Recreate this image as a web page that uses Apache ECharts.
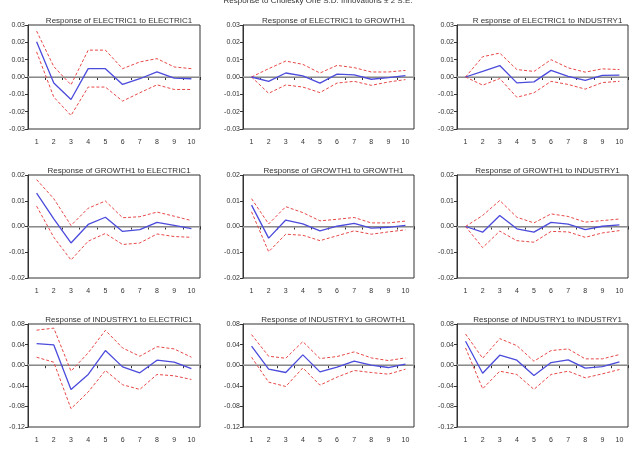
<!DOCTYPE html>
<html><head><meta charset="utf-8">
<script src="https://cdn.jsdelivr.net/npm/echarts@6/dist/echarts.min.js"></script>
<style>html,body{margin:0;padding:0;background:#fff}#c{width:636px;height:454px}</style>
</head><body><div id="c"></div>
<script>
const periods = ['1','2','3','4','5','6','7','8','9','10'];
const mainTitle = 'Response to Cholesky One S.D. Innovations \u00b1 2 S.E.';
const panelTitles = [
  'Response of ELECTRIC1 to ELECTRIC1','Response of ELECTRIC1 to GROWTH1','R esponse of ELECTRIC1 to INDUSTRY1',
  'Response of GROWTH1 to ELECTRIC1','Response of GROWTH1 to GROWTH1','Response of GROWTH1 to INDUSTRY1',
  'Response of INDUSTRY1 to ELECTRIC1','Response of INDUSTRY1 to GROWTH1','Response of INDUSTRY1 to INDUSTRY1'
];
// y-axis ranges per row: [min, max, interval]
const rowRanges = [[-0.03,0.03,0.01],[-0.02,0.02,0.01],[-0.12,0.08,0.04]];

const resp11 = [0.0203,-0.0035,-0.013,0.0048,0.0048,-0.0043,-0.001,0.003,-0.0006,-0.001];
const up11   = [0.0265,0.006,-0.0045,0.0155,0.0155,0.0048,0.0087,0.0106,0.0058,0.0048];
const lo11   = [0.0145,-0.0116,-0.0222,-0.0058,-0.0058,-0.0139,-0.0091,-0.0045,-0.0072,-0.0072];

const resp12 = [0,-0.0025,0.0023,0.0006,-0.0035,0.0017,0.0012,-0.0013,-0.0004,0.0008];
const up12   = [0,0.0048,0.0092,0.0073,0.0023,0.0067,0.0054,0.0029,0.0029,0.0038];
const lo12   = [0,-0.0094,-0.0046,-0.0058,-0.009,-0.0035,-0.0025,-0.0048,-0.0029,-0.0015];

const resp13 = [0,0.0032,0.0066,-0.0034,-0.0028,0.0038,0.0004,-0.0019,0.0009,0.0011];
const up13   = [0,0.0117,0.0138,0.0043,0.0032,0.01,0.0053,0.0028,0.0047,0.0043];
const lo13   = [0,-0.0047,-0.0009,-0.0117,-0.0091,-0.0025,-0.0043,-0.007,-0.0032,-0.0025];

const resp21 = [0.013,0.003,-0.0064,0.0008,0.0036,-0.0019,-0.0012,0.0016,0.0004,-0.0008];
const up21   = [0.0182,0.0108,0.0004,0.0071,0.0099,0.0034,0.0038,0.0056,0.004,0.0023];
const lo21   = [0.0079,-0.0042,-0.013,-0.0057,-0.0027,-0.007,-0.0064,-0.0029,-0.0039,-0.0042];

const resp22 = [0.0083,-0.0045,0.0025,0.001,-0.0017,0.0001,0.0012,-0.0006,-0.0003,0.0004];
const up22   = [0.0108,0.001,0.0077,0.0054,0.0022,0.0028,0.0035,0.0014,0.0014,0.0021];
const lo22   = [0.0057,-0.0098,-0.003,-0.0034,-0.0055,-0.0036,-0.0017,-0.003,-0.0021,-0.0013];

const resp23 = [0,-0.0022,0.0043,-0.0009,-0.0022,0.0016,0.0009,-0.0012,0.0001,0.0006];
const up23   = [0,0.0043,0.0101,0.0036,0.0014,0.0049,0.0039,0.0017,0.0023,0.0029];
const lo23   = [0,-0.0082,-0.0018,-0.0055,-0.0061,-0.0019,-0.0021,-0.0042,-0.0025,-0.0016];

const resp31 = [0.042,0.0394,-0.047,-0.018,0.0284,-0.0032,-0.0148,0.0097,0.0058,-0.0065];
const up31   = [0.068,0.072,-0.0116,0.024,0.0677,0.0335,0.0174,0.036,0.0316,0.0155];
const lo31   = [0.0155,0.0058,-0.0845,-0.052,-0.0103,-0.038,-0.047,-0.018,-0.0206,-0.0277];

const resp32 = [0.037,-0.0078,-0.0142,0.02,-0.013,-0.0039,0.0078,0,-0.0045,0.002];
const up32   = [0.0594,0.0174,0.0135,0.0458,0.0129,0.0168,0.0258,0.0142,0.009,0.0142];
const lo32   = [0.0155,-0.0329,-0.0413,-0.0052,-0.0387,-0.0232,-0.0103,-0.0142,-0.0174,-0.0077];

const resp33 = [0.0465,-0.0155,0.0194,0.0097,-0.02,0.0052,0.0103,-0.0058,-0.0026,0.0065];
const up33   = [0.0606,0.0135,0.0516,0.038,0.0077,0.0284,0.0316,0.0123,0.0123,0.0206];
const lo33   = [0.0335,-0.0458,-0.0116,-0.018,-0.047,-0.018,-0.0116,-0.0245,-0.0168,-0.0084];

const panels = [
  [resp11,up11,lo11],[resp12,up12,lo12],[resp13,up13,lo13],
  [resp21,up21,lo21],[resp22,up22,lo22],[resp23,up23,lo23],
  [resp31,up31,lo31],[resp32,up32,lo32],[resp33,up33,lo33]
];

const colLeft = [28, 243, 457];
const colWidth = [172, 171, 171];
const rowTop = [25, 175, 324];
const rowHeight = [104, 103, 103];
const titleY = [12, 162, 311];
const FONT = '"Liberation Sans", Arial, sans-serif';

const grid = [], xAxis = [], yAxis = [], series = [], title = [];
title.push({text: mainTitle, left: 'center', top: -8, textStyle:{fontSize:8, fontWeight:'normal', color:'#333', fontFamily:FONT}});
for (let i = 0; i < 9; i++) {
  const r = Math.floor(i/3), c = i%3;
  const rng = rowRanges[r];
  grid.push({left: colLeft[c], top: rowTop[r], width: colWidth[c], height: rowHeight[r], show: true, borderColor: '#333', borderWidth: 1, backgroundColor: 'transparent'});
  title.push({text: panelTitles[i], left: colLeft[c] + colWidth[c]/2, top: titleY[r], textAlign: 'center',
    textStyle:{fontSize:8, fontWeight:'normal', color:'#333', fontFamily:FONT}});
  xAxis.push({type:'category', gridIndex:i, data: periods, boundaryGap: true,
    axisLine:{show:true, lineStyle:{color:'#333', width:1}},
    axisTick:{show:true, inside:false, length:3, alignWithLabel:false, lineStyle:{color:'#333'}},
    axisLabel:{fontSize:7, color:'#333', margin:10, fontFamily:FONT, interval:0}});
  yAxis.push({type:'value', gridIndex:i, min: rng[0], max: rng[1], interval: rng[2],
    axisLine:{show:true, lineStyle:{color:'#333', width:1}},
    axisTick:{show:true, inside:false, length:3, lineStyle:{color:'#333'}},
    splitLine:{show:false},
    axisLabel:{fontSize:7, color:'#333', margin:3, fontFamily:FONT, formatter: v => (Math.abs(v) < 1e-9 ? 0 : v).toFixed(2)}});
  const [resp, up, lo] = panels[i];
  series.push({type:'line', xAxisIndex:i, yAxisIndex:i, data: resp, symbol:'none', silent:true, z:3,
    lineStyle:{color:'#4b4bdc', width:1.3},
    markLine:{silent:true, symbol:'none', label:{show:false}, lineStyle:{color:'#a8a8a8', width:1.5, type:'solid'}, data:[{yAxis:0}], z:1}});
  series.push({type:'line', xAxisIndex:i, yAxisIndex:i, data: up, symbol:'none', silent:true, z:2,
    lineStyle:{color:'#e84848', width:1, type:[3,2]}});
  series.push({type:'line', xAxisIndex:i, yAxisIndex:i, data: lo, symbol:'none', silent:true, z:2,
    lineStyle:{color:'#e84848', width:1, type:[3,2]}});
}
const chart = echarts.init(document.getElementById('c'), null, {renderer:'canvas'});
chart.setOption({animation:false, backgroundColor:'#fff', title, grid, xAxis, yAxis, series});
</script></body></html>
